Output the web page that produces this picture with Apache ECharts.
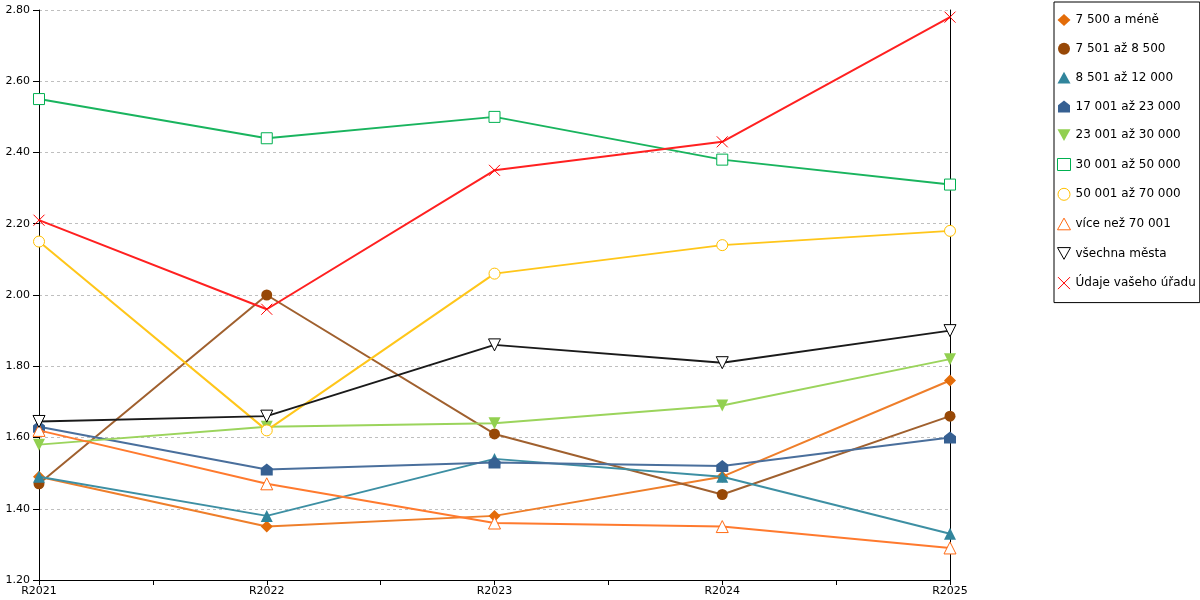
<!DOCTYPE html>
<html>
<head>
<meta charset="utf-8">
<script src="https://cdn.jsdelivr.net/npm/echarts@6/dist/echarts.min.js"></script>
<style>html,body{margin:0;padding:0;background:#fff;}#c{width:1200px;height:600px;}</style>
</head>
<body>
<div id="c"></div>
<script>
const categories = ['R2021', 'R2022', 'R2023', 'R2024', 'R2025'];
const seriesNames = ['7 500 a méně', '7 501 až 8 500', '8 501 až 12 000', '17 001 až 23 000', '23 001 až 30 000', '30 001 až 50 000', '50 001 až 70 000', 'více než 70 001', 'všechna města', 'Údaje vašeho úřadu'];
const v7500 = [1.49, 1.35, 1.38, 1.49, 1.76];
const v8500 = [1.47, 2.00, 1.61, 1.44, 1.66];
const v12000 = [1.49, 1.38, 1.54, 1.49, 1.33];
const v23000 = [1.63, 1.51, 1.53, 1.52, 1.60];
const v30000 = [1.58, 1.63, 1.64, 1.69, 1.82];
const v50000 = [2.55, 2.44, 2.50, 2.38, 2.31];
const v70000 = [2.15, 1.62, 2.06, 2.14, 2.18];
const vOver70001 = [1.62, 1.47, 1.36, 1.35, 1.29];
const vAll = [1.645, 1.66, 1.86, 1.81, 1.90];
const vOffice = [2.21, 1.96, 2.35, 2.43, 2.78];
const yTicks = [1.2, 1.4, 1.6, 1.8, 2.0, 2.2, 2.4, 2.6, 2.8];

const values = [v7500, v8500, v12000, v23000, v30000, v50000, v70000, vOver70001, vAll, vOffice];

const housePath = 'path://M0,4 L5,0 L10,4 L10,10 L0,10 Z';
const downTri = 'path://M0,0 L10,0 L5,9 Z';
const upTri = 'path://M5,0 L10,9 L0,9 Z';
const crossPath = 'path://M0,0 L10,10 M10,0 L0,10';

const styles = [
  {symbol: 'diamond', size: 12, color: '#E36C09', line: '#EE7E2A', hollow: false},
  {symbol: 'circle', size: 11, color: '#974806', line: '#A0602E', hollow: false},
  {symbol: upTri, size: 12, color: '#31859C', line: '#3D8FA3', hollow: false},
  {symbol: housePath, size: 12, color: '#366092', line: '#4A6F9C', hollow: false},
  {symbol: downTri, size: 12, color: '#92D050', line: '#9BD45C', hollow: false},
  {symbol: 'rect', size: 11, color: '#00B050', line: '#19B45E', hollow: true},
  {symbol: 'circle', size: 11, color: '#FFC000', line: '#FFC61A', hollow: true},
  {symbol: upTri, size: 12, color: '#FF6A13', line: '#FF7A2E', hollow: true},
  {symbol: downTri, size: 12, color: '#000000', line: '#1A1A1A', hollow: true},
  {symbol: crossPath, size: 11, color: '#FF0000', line: '#FF2020', hollow: true, cross: true}
];

const series = seriesNames.map((name, i) => {
  const st = styles[i];
  const itemStyle = st.hollow
    ? {color: st.cross ? 'rgba(0,0,0,0)' : '#ffffff', borderColor: st.color, borderWidth: 1, opacity: 1}
    : {color: st.color, borderWidth: 0, opacity: 1};
  return {
    name: name,
    type: 'line',
    data: values[i].map((v, k) => [k, v]),
    symbol: st.symbol,
    symbolSize: st.size,
    showAllSymbol: true,
    itemStyle: itemStyle,
    lineStyle: {color: st.line, width: 2},
    emphasis: {disabled: true},
    animation: false,
    z: 2 + i
  };
});

const legendData = seriesNames.map((name, i) => {
  const st = styles[i];
  return {
    name: name,
    icon: st.symbol,
    itemStyle: st.hollow
      ? {color: st.cross ? 'rgba(0,0,0,0)' : '#ffffff', borderColor: st.color, borderWidth: 1}
      : {color: st.color, borderWidth: 0}
  };
});

const chart = echarts.init(document.getElementById('c'));
chart.setOption({
  animation: false,
  backgroundColor: '#ffffff',
  textStyle: {fontFamily: 'DejaVu Sans'},
  grid: {left: 39, right: 250, top: 10, bottom: 20, containLabel: false},
  legend: {
    orient: 'vertical',
    left: 1054,
    top: 2,
    padding: [12, 4, 13, 3],
    itemGap: 16.8,
    itemWidth: 13,
    itemHeight: 12,
    borderColor: '#000',
    borderWidth: 1,
    selectedMode: false,
    textStyle: {fontFamily: 'DejaVu Sans', fontSize: 12, color: '#000'},
    data: legendData
  },
  xAxis: {
    type: 'value',
    min: 0,
    max: categories.length - 1,
    interval: 0.5,
    axisLine: {show: true, lineStyle: {color: '#000', width: 1}},
    axisTick: {show: true, inside: false, length: 5, lineStyle: {color: '#000'}},
    axisLabel: {
      show: true,
      margin: 6,
      fontSize: 11,
      color: '#000',
      fontFamily: 'DejaVu Sans',
      showMinLabel: true,
      showMaxLabel: true,
      formatter: function (v) {
        return Number.isInteger(v) ? categories[v] : '';
      }
    },
    splitLine: {show: false}
  },
  yAxis: [{
    type: 'value',
    min: yTicks[0],
    max: yTicks[yTicks.length - 1],
    interval: 0.2,
    axisLine: {show: true, lineStyle: {color: '#000', width: 1}},
    axisTick: {show: true, inside: false, length: 6, lineStyle: {color: '#000'}},
    axisLabel: {
      margin: 9,
      fontSize: 11,
      color: '#000',
      fontFamily: 'DejaVu Sans',
      formatter: function (v) { return v.toFixed(2); }
    },
    splitLine: {show: true, lineStyle: {color: '#BFBFBF', type: [3, 3], width: 1}}
  }, {
    type: 'value',
    position: 'right',
    min: yTicks[0],
    max: yTicks[yTicks.length - 1],
    interval: 0.2,
    axisLine: {show: true, lineStyle: {color: '#000', width: 1}},
    axisTick: {show: false},
    axisLabel: {show: false},
    splitLine: {show: false}
  }],
  series: series
});
</script>
</body>
</html>
